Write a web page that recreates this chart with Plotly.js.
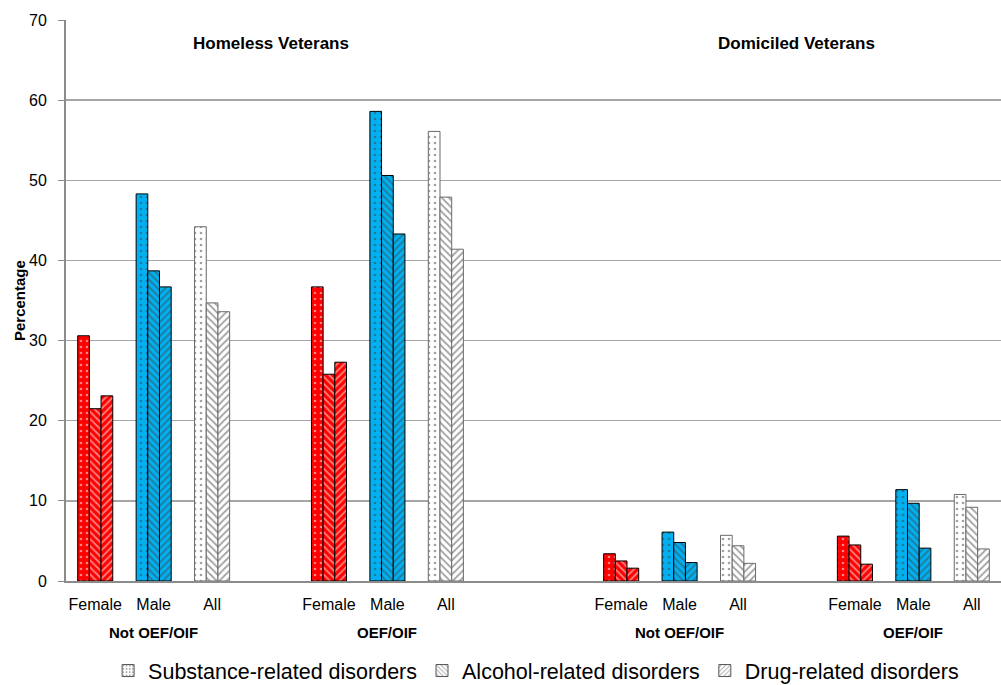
<!DOCTYPE html>
<html>
<head>
<meta charset="utf-8">
<script src="https://cdn.plot.ly/plotly-3.0.1.min.js"></script>
<style>html,body{margin:0;padding:0;background:#fff;}#chart{width:1001px;height:685px;}</style>
</head>
<body>
<div id="chart"></div>
<script>
// ---- Data ----
var veteranTypes = ["Homeless Veterans", "Domiciled Veterans"];
var groupLabels = ["Not OEF/OIF", "OEF/OIF", "Not OEF/OIF", "OEF/OIF"];
var subgroups = ["Female", "Male", "All"];
var seriesNames = ["Substance-related disorders", "Alcohol-related disorders", "Drug-related disorders"];

// values per group: [Female, Male, All]
var substance = [
  [30.6, 48.3, 44.2],
  [36.7, 58.6, 56.1],
  [3.4, 6.1, 5.7],
  [5.6, 11.4, 10.8]
];
var alcohol = [
  [21.5, 38.7, 34.7],
  [25.8, 50.6, 47.9],
  [2.5, 4.8, 4.4],
  [4.5, 9.7, 9.2]
];
var drug = [
  [23.1, 36.7, 33.6],
  [27.3, 43.3, 41.4],
  [1.6, 2.3, 2.2],
  [2.1, 4.1, 4.0]
];
var yTicks = [0, 10, 20, 30, 40, 50, 60, 70];

// ---- Layout helpers ----
var groupStart = [0, 4, 9, 13]; // slot index of first category in each group
var subColors = ["#ff0000", "#00b0f0", "#ffffff"];
var subFg = ["#000000", "#000000", "#7f7f7f"];
var subLine = ["#000000", "#000000", "#6a6a6a"];

var xs = [], tickText = [], colors = [], fgs = [], lines = [];
groupStart.forEach(function (s, g) {
  subgroups.forEach(function (sg, i) {
    xs.push(s + i); tickText.push(sg);
    colors.push(subColors[i]); fgs.push(subFg[i]); lines.push(subLine[i]);
  });
});
function flat(a) { return [].concat.apply([], a); }

var shapes = [".", "\\", "/"];
var allSeries = [substance, alcohol, drug];
var traces = [];
allSeries.forEach(function (ser, k) {
  traces.push({
    type: "bar", x: xs, y: flat(ser), name: seriesNames[k], showlegend: false,
    marker: {
      color: colors,
      line: { color: lines, width: 1 },
      pattern: { shape: shapes[k], fillmode: "overlay", fgcolor: fgs, bgcolor: colors,
                 size: k === 0 ? 6 : 5, solidity: k === 0 ? 0.16 : 0.35 }
    },
    hoverinfo: "y"
  });
});
// legend-only traces
allSeries.forEach(function (ser, k) {
  traces.push({
    type: "bar", x: [null], y: [null], name: seriesNames[k], xaxis: "x2",
    marker: { color: "#ffffff", line: { color: "#555", width: 1 },
      pattern: { shape: shapes[k], fillmode: "overlay", fgcolor: "#555", bgcolor: "#ffffff", size: 4, solidity: 0.3 } }
  });
});

var annotations = [];
// veteran type labels centred over the gap slot between each pair of groups
[3, 12].forEach(function (sx, i) {
  annotations.push({ x: sx, y: 67.1, xref: "x", yref: "y", text: "<b>" + veteranTypes[i] + "</b>",
    showarrow: false, font: { family: "Liberation Sans, Arial", size: 17, color: "#000" } });
});
groupStart.forEach(function (s, g) {
  annotations.push({ x: s + 1, y: 0, xref: "x", yref: "paper", yshift: -62, text: "<b>" + groupLabels[g] + "</b>",
    showarrow: false, font: { family: "Liberation Sans, Arial", size: 15, color: "#000" } });
});
annotations.push({ x: 0, y: 0.5, xref: "paper", yref: "paper", xshift: -57, textangle: -90,
  text: "<b>Percentage</b>", showarrow: false, font: { family: "Liberation Sans, Arial", size: 15, color: "#000" } });

var layout = {
  width: 1001, height: 685,
  margin: { l: 66, r: 0, t: 20, b: 104 },
  paper_bgcolor: "#fff", plot_bgcolor: "#fff",
  barmode: "group", bargap: 0.4, bargroupgap: 0,
  font: { family: "Liberation Sans, Arial", size: 16, color: "#000" },
  xaxis: {
    range: [-0.5, 15.5], tickmode: "array", tickvals: xs, ticktext: tickText,
    showgrid: false, zeroline: false, showline: true, linecolor: "#8c8c8c", linewidth: 2,
    ticks: "", tickfont: { size: 16 }, ticklabelstandoff: 8, fixedrange: true
  },
  xaxis2: { overlaying: "x", visible: false, range: [0, 1] },
  yaxis: {
    range: [0, 70], tickmode: "array", tickvals: yTicks, showgrid: true, gridcolor: "#a6a6a6", gridwidth: 1.5,
    zeroline: false, showline: true, linecolor: "#8c8c8c", linewidth: 2,
    ticks: "outside", ticklen: 6, tickcolor: "#8c8c8c", tickwidth: 1, ticklabelstandoff: 8,
    tickfont: { size: 16 }, fixedrange: true
  },
  legend: {
    orientation: "h", x: 0.108, xanchor: "left", xref: "container",
    y: 0.051, yanchor: "top", yref: "container",
    font: { size: 21.5, color: "#000" }, itemwidth: 30,
    traceorder: "normal"
  },
  annotations: annotations,
  showlegend: true
};

Plotly.newPlot("chart", traces, layout, { displayModeBar: false, staticPlot: true });
</script>
</body>
</html>
